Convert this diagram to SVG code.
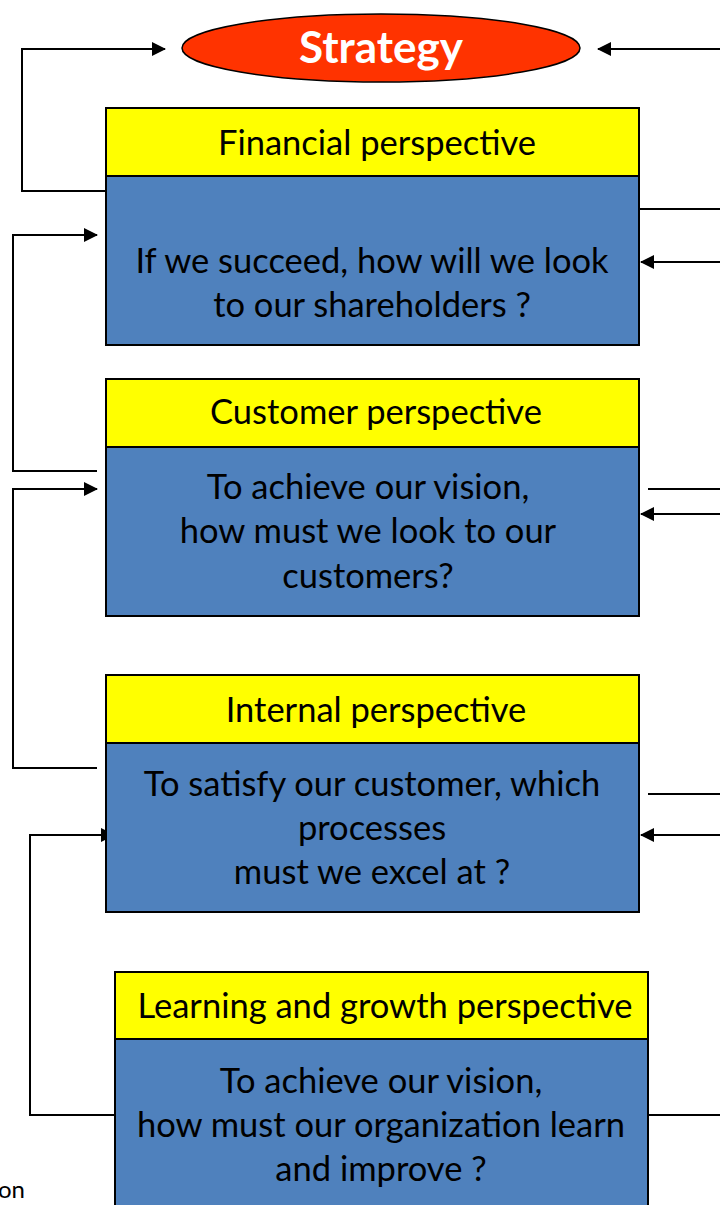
<svg xmlns="http://www.w3.org/2000/svg" width="720" height="1205" viewBox="0 0 720 1205">
<style>
.hdr{fill:#FFFF00;stroke:#000;stroke-width:2}
.body{fill:#4F81BD;stroke:#000;stroke-width:2}
.t{font-family:Lato,"Open Sans","Liberation Sans",sans-serif;font-size:34.5px;fill:#000;text-anchor:middle}
.c{fill:none;stroke:#000;stroke-width:2}
</style>
<defs>
<marker id="ah" viewBox="0 0 14 14" refX="13" refY="7" markerWidth="14" markerHeight="14" markerUnits="userSpaceOnUse" orient="auto">
<path d="M0,0 L14,7 L0,14 Z" fill="#000"/>
</marker>
</defs>
<g id="connectors">
<path class="c" d="M106,191 H22 V49 H165" marker-end="url(#ah)"/>
<path class="c" d="M720,49 H598" marker-end="url(#ah)"/>
<path class="c" d="M639,209 H720"/>
<path class="c" d="M720,262 H641" marker-end="url(#ah)"/>
<path class="c" d="M97,471 H13 V235 H97" marker-end="url(#ah)"/>
<path class="c" d="M97,768 H13 V489 H97" marker-end="url(#ah)"/>
<path class="c" d="M648,489 H720"/>
<path class="c" d="M720,514 H641" marker-end="url(#ah)"/>
<path class="c" d="M648,794 H720"/>
<path class="c" d="M720,835 H641" marker-end="url(#ah)"/>
<path class="c" d="M114,1115 H30 V835 H114" marker-end="url(#ah)"/>
<path class="c" d="M648,1115 H720"/>
</g>
<g id="strategy">
<ellipse cx="381" cy="48" rx="199" ry="34" fill="#FF3300" stroke="#000" stroke-width="1.5"/>
<text x="381" y="63" style="font-family:Lato,'Open Sans','Liberation Sans',sans-serif;font-size:44px;font-weight:bold;fill:#fff;text-anchor:middle">Strategy</text>
</g>
<g id="financial">
<rect class="hdr" x="106" y="108" width="533" height="68"/>
<rect class="body" x="106" y="176" width="533" height="169"/>
<text class="t" x="377" y="155">Financial perspective</text>
<text class="t" x="372" y="273">If we succeed, how will we look</text>
<text class="t" x="372" y="317">to our shareholders ?</text>
</g>
<g id="customer">
<rect class="hdr" x="106" y="379" width="533" height="68"/>
<rect class="body" x="106" y="447" width="533" height="169"/>
<text class="t" x="376" y="424">Customer perspective</text>
<text class="t" x="368" y="499">To achieve our vision,</text>
<text class="t" x="368" y="543">how must we look to our</text>
<text class="t" x="368" y="588">customers?</text>
</g>
<g id="internal">
<rect class="hdr" x="106" y="675" width="533" height="68"/>
<rect class="body" x="106" y="743" width="533" height="169"/>
<text class="t" x="376" y="722">Internal perspective</text>
<text class="t" x="372" y="796">To satisfy our customer, which</text>
<text class="t" x="372" y="840">processes</text>
<text class="t" x="372" y="884">must we excel at ?</text>
</g>
<g id="learning">
<rect class="hdr" x="115" y="972" width="533" height="67"/>
<rect class="body" x="115" y="1039" width="533" height="175"/>
<text class="t" x="385" y="1018">Learning and growth perspective</text>
<text class="t" x="381" y="1093">To achieve our vision,</text>
<text class="t" x="381" y="1137">how must our organization learn</text>
<text class="t" x="381" y="1181">and improve ?</text>
</g>
<text x="-2" y="1198" style="font-family:Lato,'Open Sans','Liberation Sans',sans-serif;font-size:24px;fill:#000">on</text>
</svg>
